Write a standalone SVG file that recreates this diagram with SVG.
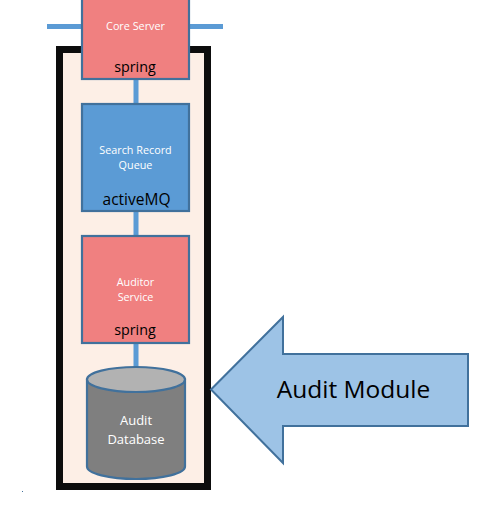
<svg xmlns="http://www.w3.org/2000/svg" width="493" height="510" viewBox="0 0 493 510">
<style>
text{font-family:"Open Sans","Noto Sans","Liberation Sans",sans-serif;text-anchor:middle}
.box{stroke:#41719c;stroke-width:2.2}
.red{fill:#f08080}
.blue{fill:#5b9bd5}
.w{fill:#fff;font-size:10.800px}
.k{fill:#000;font-size:14.300px}
.c{stroke:#5b9bd5;stroke-width:5;fill:none}
</style>
<rect width="493" height="510" fill="#fff"/>
<g id="audit-container"><rect x="59.500" y="49.500" width="148" height="437" fill="#fdefe6" stroke="#0d0d0d" stroke-width="7"/></g>
<g id="connectors">
<path class="c" d="M47 26.500H82M189 26.500H223M136 79V104M136 211V236M136 343V367"/>
</g>
<g id="core-server">
<rect class="box red" x="82" y="-10" width="107" height="89"/>
<text class="w" x="135.500" y="30">Core Server</text>
<text class="k" x="135" y="72">spring</text>
</g>
<g id="search-record-queue">
<rect class="box blue" x="82" y="104" width="107" height="107"/>
<text class="w" x="135.500" y="154">Search Record</text>
<text class="w" x="135.500" y="169">Queue</text>
<text class="k" x="136.500" y="205" style="font-size:15.500px">activeMQ</text>
</g>
<g id="auditor-service">
<rect class="box red" x="82" y="236" width="107" height="107"/>
<text class="w" x="135.500" y="286">Auditor</text>
<text class="w" x="135.500" y="301">Service</text>
<text class="k" x="135" y="335">spring</text>
</g>
<g id="audit-database">
<path class="box" fill="#7f7f7f" d="M87 379.500V466.500C87 473.500 109 479 136 479S185 473.500 185 466.500V379.500Z"/>
<ellipse class="box" fill="#b2b2b2" cx="136" cy="379.500" rx="49" ry="12.500"/>
<text x="136" y="425" fill="#fff" font-size="13">Audit</text>
<text x="136" y="444" fill="#fff" font-size="13">Database</text>
</g>
<g id="audit-module">
<path d="M211 389.500L283 317V354H468V426H283V463Z" fill="#9dc3e6" stroke="#41719c" stroke-width="2"/>
<text x="353.500" y="398" fill="#000" font-size="24.500">Audit Module</text>
</g>
<rect x="22" y="491" width="1" height="1" fill="#41719c"/>
</svg>
